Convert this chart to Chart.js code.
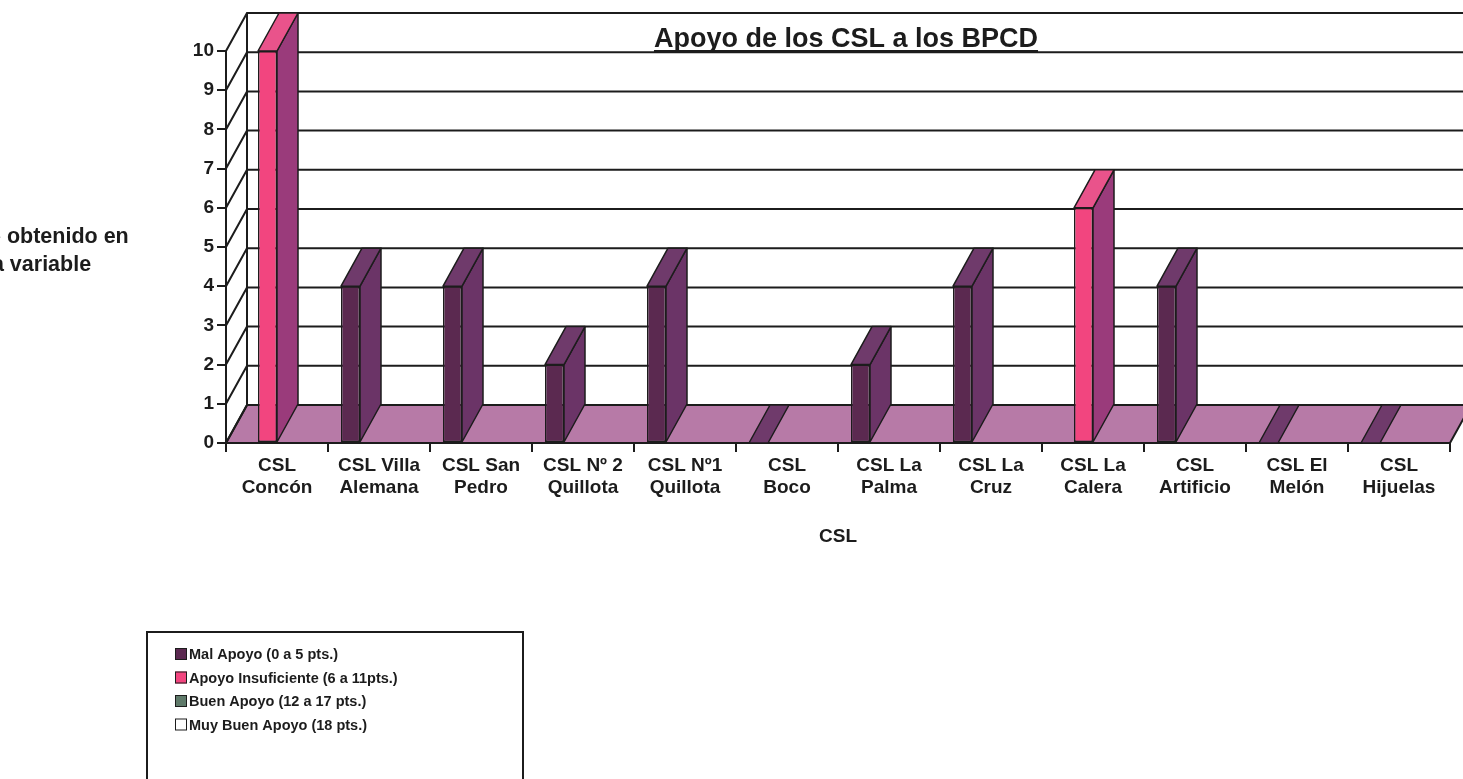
<!DOCTYPE html>
<html>
<head>
<meta charset="utf-8">
<script src="https://cdn.jsdelivr.net/npm/chart.js@4.4.1/dist/chart.umd.min.js"></script>
<style>
  html, body { margin: 0; padding: 0; background: #fff; }
  #wrap { width: 1463px; height: 779px; position: relative; }
</style>
</head>
<body>
<div id="wrap"><canvas id="chart"></canvas></div>
<script>
// Chart data
const categories = [
    ['CSL', 'Concón'], ['CSL Villa', 'Alemana'], ['CSL San', 'Pedro'],
    ['CSL Nº 2', 'Quillota'], ['CSL Nº1', 'Quillota'], ['CSL', 'Boco'],
    ['CSL La', 'Palma'], ['CSL La', 'Cruz'], ['CSL La', 'Calera'],
    ['CSL', 'Artificio'], ['CSL El', 'Melón'], ['CSL', 'Hijuelas']
];
const malApoyo          = [null, 4, 4, 2, 4, 0, 2, 4, null, 4, 0, 0];
const apoyoInsuficiente = [10, null, null, null, null, null, null, null, 6, null, null, null];
const buenApoyo         = [null, null, null, null, null, null, null, null, null, null, null, null];
const muyBuenApoyo      = [null, null, null, null, null, null, null, null, null, null, null, null];
const seriesNames = [
    'Mal Apoyo (0 a 5 pts.)',
    'Apoyo Insuficiente (6 a 11pts.)',
    'Buen Apoyo (12 a 17 pts.)',
    'Muy Buen Apoyo (18 pts.)'
];
const chartTitle = 'Apoyo de los CSL a los BPCD';
const yTitleLines = ['Puntaje obtenido en', 'esta variable'];
const xTitle = 'CSL';

// look
const FONT = "'Liberation Sans', Arial, sans-serif";
const INK = '#1c1c1c';
const FLOOR = '#b77aa7';
const DX = 21, DY = -38;   // depth of the fake 3d box

const depth3d = {
    id: 'depth3d',
    beforeDatasetsDraw(chart) {
        const { ctx, chartArea: a, scales: { y } } = chart;
        const y0 = y.getPixelForValue(0);
        const yTop = y.getPixelForValue(y.max);
        ctx.save();
        ctx.strokeStyle = INK;
        ctx.lineWidth = 2;

        // floor
        ctx.fillStyle = FLOOR;
        ctx.beginPath();
        ctx.moveTo(a.left, y0);
        ctx.lineTo(a.right, y0);
        ctx.lineTo(a.right + DX, y0 + DY);
        ctx.lineTo(a.left + DX, y0 + DY);
        ctx.closePath();
        ctx.fill();
        ctx.stroke();

        // side wall diagonals + back wall lines
        y.ticks.forEach(t => {
            const py = y.getPixelForValue(t.value);
            ctx.beginPath();
            ctx.moveTo(a.left, py);
            ctx.lineTo(a.left + DX, py + DY);
            ctx.lineTo(a.right + DX + 20, py + DY);
            ctx.stroke();
        });
        ctx.beginPath();
        ctx.moveTo(a.left + DX, yTop + DY);
        ctx.lineTo(a.left + DX, y0 + DY);
        ctx.stroke();
        ctx.restore();
    },
    afterDatasetsDraw(chart) {
        const { ctx } = chart;
        ctx.save();
        ctx.strokeStyle = INK;
        ctx.lineWidth = 1.5;
        ctx.lineJoin = 'round';
        const poly = (pts, fill) => {
            ctx.fillStyle = fill;
            ctx.beginPath();
            pts.forEach((p, k) => k ? ctx.lineTo(p[0], p[1]) : ctx.moveTo(p[0], p[1]));
            ctx.closePath();
            ctx.fill();
            ctx.stroke();
        };
        chart.data.datasets.forEach((ds, i) => {
            const meta = chart.getDatasetMeta(i);
            meta.data.forEach((bar, j) => {
                const v = ds.data[j];
                if (v === null || v === undefined) return;
                const { x, y: top, base, width } = bar.getProps(['x', 'y', 'base', 'width'], true);
                const l = x - width / 2, r = x + width / 2;
                if (top !== base) {
                    poly([[r, top], [r + DX, top + DY], [r + DX, base + DY], [r, base]], ds.sideColor);
                }
                poly([[l, top], [l + DX, top + DY], [r + DX, top + DY], [r, top]], ds.topColor);
            });
        });
        ctx.restore();
    },
    afterDraw(chart) {
        const { ctx, chartArea: a } = chart;
        ctx.save();
        ctx.fillStyle = INK;
        ctx.textBaseline = 'alphabetic';

        // title, underlined
        ctx.font = 'bold 27px ' + FONT;
        ctx.textAlign = 'center';
        const tx = 846, ty = 47;
        ctx.fillText(chartTitle, tx, ty);
        const tw = ctx.measureText(chartTitle).width;
        ctx.fillRect(tx - tw / 2, ty + 3, tw, 2);

        // y title (runs off the left edge as in the scan)
        ctx.font = 'bold 21.5px ' + FONT;
        ctx.textBaseline = 'middle';
        ctx.fillText(yTitleLines[0], 26, 237);
        ctx.fillText(yTitleLines[1], 26, 265);

        // x title
        ctx.font = 'bold 19px ' + FONT;
        ctx.fillText(xTitle, (a.left + a.right) / 2, 537);

        // legend box
        ctx.strokeStyle = INK;
        ctx.lineWidth = 2;
        ctx.strokeRect(147, 632, 376, 200);
        ctx.font = 'bold 14.5px ' + FONT;
        ctx.textAlign = 'left';
        chart.data.datasets.forEach((ds, i) => {
            const ry = 654 + i * 23.5;
            ctx.fillStyle = ds.backgroundColor;
            ctx.fillRect(175, ry - 6, 12, 12);
            ctx.lineWidth = 1;
            ctx.strokeRect(175.5, ry - 5.5, 11, 11);
            ctx.fillStyle = INK;
            ctx.fillText(ds.label, 189, ry + 1);
        });
        ctx.restore();
    }
};

const makeSet = (label, data, front, side, top) => ({
    label, data,
    backgroundColor: front,
    sideColor: side,
    topColor: top,
    borderColor: INK,
    borderWidth: 1.5,
    borderSkipped: false,
    categoryPercentage: 0.745,
    barPercentage: 1
});

new Chart(document.getElementById('chart'), {
    type: 'bar',
    data: {
        labels: categories,
        datasets: [
            makeSet(seriesNames[0], malApoyo, '#5b2950', '#6b3467', '#6f3a6b'),
            makeSet(seriesNames[1], apoyoInsuficiente, '#f2457f', '#9a3b7b', '#e9538b'),
            makeSet(seriesNames[2], buenApoyo, '#5f7a6a', '#4c6356', '#6d887a'),
            makeSet(seriesNames[3], muyBuenApoyo, '#ffffff', '#dddddd', '#eeeeee')
        ]
    },
    options: {
        responsive: true,
        maintainAspectRatio: false,
        animation: false,
        devicePixelRatio: 1,
        layout: { padding: { left: 0, right: 13, top: 51, bottom: 0 } },
        plugins: {
            legend: { display: false },
            tooltip: { enabled: false }
        },
        scales: {
            x: {
                offset: true,
                afterFit: s => { s.height = 336; },
                grid: { drawOnChartArea: false, tickLength: 9, color: INK, lineWidth: 2 },
                border: { color: INK, width: 2 },
                ticks: {
                    color: INK, autoSkip: false, maxRotation: 0, padding: 2,
                    font: { family: FONT, size: 19, weight: 'bold', lineHeight: 1.2 }
                }
            },
            y: {
                min: 0, max: 10,
                afterFit: s => { s.width = 226; },
                grid: { drawOnChartArea: false, tickLength: 9, color: INK, lineWidth: 2 },
                border: { color: INK, width: 2 },
                ticks: {
                    stepSize: 1, color: INK, padding: 3,
                    font: { family: FONT, size: 19, weight: 'bold' }
                }
            }
        }
    },
    plugins: [depth3d]
});
</script>
</body>
</html>
